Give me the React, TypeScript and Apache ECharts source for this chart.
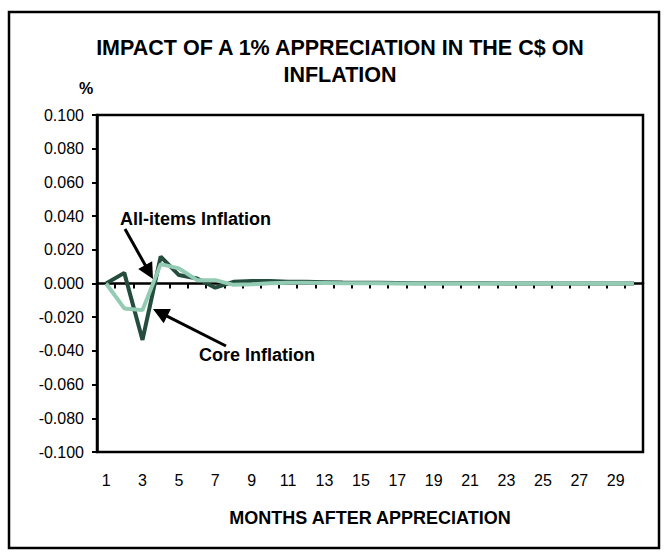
import React, { useEffect, useRef } from "react";
import * as echarts from "echarts";

const months = ["1","2","3","4","5","6","7","8","9","10","11","12","13","14","15","16","17","18","19","20","21","22","23","24","25","26","27","28","29","30"];
const allItems = [0, 0.0063, -0.0335, 0.016, 0.005, 0.003, -0.0025, 0.001, 0.0015, 0.0015, 0.001, 0.001, 0.0008, 0.0006, 0.0005, 0.0004, 0.0003, 0.0002, 0.0002, 0.0001, 0.0001, 0.0001, 0, 0, 0, 0, 0, 0, 0, 0];
const core = [0, -0.0148, -0.0158, 0.0115, 0.009, 0.002, 0.002, -0.0008, -0.0005, 0.0002, 0.0005, 0.0004, 0.0003, 0.0002, 0.0001, 0.0001, 0, 0, 0, 0, 0, 0, 0, 0, 0, 0, 0, 0, 0, 0];
const yMin = -0.1;
const yMax = 0.1;
const yStep = 0.02;

const FONT = "'Liberation Sans', Arial, sans-serif";

function arrow(tail: number[], tip: number[]) {
  const dx = tip[0] - tail[0];
  const dy = tip[1] - tail[1];
  const len = Math.sqrt(dx * dx + dy * dy);
  const ux = dx / len, uy = dy / len;
  const hl = 16, hw = 8;
  const bx = tip[0] - ux * hl, by = tip[1] - uy * hl;
  return [
    {
      type: "line",
      shape: { x1: tail[0], y1: tail[1], x2: bx + ux * 2, y2: by + uy * 2 },
      style: { stroke: "#000", lineWidth: 3 },
      z: 100,
    },
    {
      type: "polygon",
      shape: {
        points: [
          [tip[0], tip[1]],
          [bx - uy * hw, by + ux * hw],
          [bx + uy * hw, by - ux * hw],
        ],
      },
      style: { fill: "#000" },
      z: 100,
    },
  ];
}

export default function App() {
  const ref = useRef<HTMLDivElement>(null);
  useEffect(() => {
    document.body.style.margin = "0";
    const chart = echarts.init(ref.current!, null, { renderer: "svg" });
    chart.setOption({
      animation: false,
      backgroundColor: "#fff",
      textStyle: { fontFamily: FONT },
      title: {
        text: "IMPACT OF A 1% APPRECIATION IN THE C$ ON\nINFLATION",
        left: 335,
        textAlign: "center",
        top: 29,
        textStyle: { fontFamily: FONT, fontWeight: "bold", fontSize: 21.5, color: "#000", lineHeight: 27 },
      },
      grid: { left: 97, top: 115, right: 23, bottom: 103, show: true, borderColor: "#000", borderWidth: 2.5 },
      xAxis: [
        {
          type: "category",
          data: months,
          boundaryGap: true,
          axisLine: { onZero: true, lineStyle: { color: "#000", width: 2.5 } },
          axisTick: { show: true, interval: 0, length: 5, lineStyle: { color: "#000", width: 2 } },
          axisLabel: { show: false },
          splitLine: { show: false },
        },
        {
          type: "category",
          data: months,
          position: "bottom",
          boundaryGap: true,
          axisLine: { show: false, onZero: false },
          axisTick: { show: false },
          axisLabel: { interval: 1, margin: 20, fontSize: 16, color: "#000", fontFamily: FONT },
          name: "MONTHS AFTER APPRECIATION",
          nameLocation: "middle",
          nameGap: 57,
          nameTextStyle: { fontFamily: FONT, fontWeight: "bold", fontSize: 18, color: "#000" },
          splitLine: { show: false },
        },
      ],
      yAxis: {
        type: "value",
        min: yMin,
        max: yMax,
        interval: yStep,
        axisLine: { show: true, lineStyle: { color: "#000", width: 2.5 } },
        axisTick: { show: true, length: 5, inside: false, lineStyle: { color: "#000", width: 2 } },
        axisLabel: {
          fontSize: 16,
          color: "#000",
          fontFamily: FONT,
          margin: 13,
          formatter: (v: number) => (Math.abs(v) < 1e-9 ? 0 : v).toFixed(3),
        },
        splitLine: { show: false },
      },
      series: [
        {
          name: "All-items Inflation",
          type: "line",
          xAxisIndex: 0,
          data: allItems,
          showSymbol: false,
          lineStyle: { color: "#244d3e", width: 4 },
          itemStyle: { color: "#244d3e" },
          z: 3,
        },
        {
          name: "Core Inflation",
          type: "line",
          xAxisIndex: 0,
          data: core,
          showSymbol: false,
          lineStyle: { color: "#93cbb4", width: 4 },
          itemStyle: { color: "#93cbb4" },
          z: 4,
        },
      ],
      graphic: [
        {
          type: "rect",
          shape: { x: 9, y: 12, width: 650, height: 536 },
          style: { fill: "none", stroke: "#000", lineWidth: 2.5 },
          z: 0,
        },
        {
          type: "text",
          x: 86,
          y: 88,
          style: { text: "%", font: `bold 16px ${FONT}`, fill: "#000", align: "center", verticalAlign: "middle" },
        },
        {
          type: "text",
          x: 120,
          y: 219,
          style: { text: "All-items Inflation", font: `bold 18px ${FONT}`, fill: "#000", align: "left", verticalAlign: "middle" },
          z: 100,
        },
        {
          type: "text",
          x: 199,
          y: 355,
          style: { text: "Core Inflation", font: `bold 18px ${FONT}`, fill: "#000", align: "left", verticalAlign: "middle" },
          z: 100,
        },
        ...arrow([125, 229], [153, 279]),
        ...arrow([226, 346], [153, 309]),
      ],
    });
    return () => chart.dispose();
  }, []);
  return <div ref={ref} style={{ width: 666, height: 555 }} />;
}
